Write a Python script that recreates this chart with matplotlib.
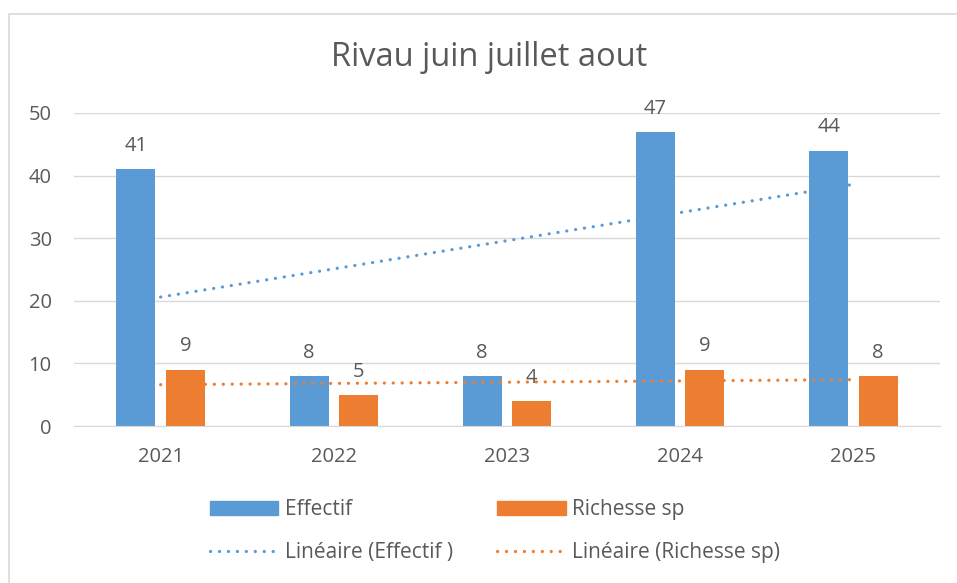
import matplotlib.pyplot as plt
from matplotlib.patches import Patch, Rectangle
from matplotlib.lines import Line2D
import numpy as np

years = ["2021", "2022", "2023", "2024", "2025"]
effectif = [41, 8, 8, 47, 44]
richesse = [9, 5, 4, 9, 8]

blue = "#5B9BD5"
orange = "#ED7D31"
txt = "#595959"
grid = "#D9D9D9"

plt.rcParams['font.family'] = ['Open Sans', 'DejaVu Sans']

fig = plt.figure(figsize=(9.57, 5.83), dpi=100)
ax = fig.add_axes([74 / 957, 1 - 426 / 583, (940 - 74) / 957, (426 - 113) / 583])

# chart frame
fig.patches.append(Rectangle((9 / 957, -0.05), 1.0, 1 - 14 / 583 + 0.05,
                             transform=fig.transFigure, fill=False,
                             edgecolor=grid, linewidth=1.2))

x = np.arange(len(years))
w = 0.225
off = 0.143
b1 = ax.bar(x - off, effectif, w, color=blue, zorder=2)
b2 = ax.bar(x + off, richesse, w, color=orange, zorder=2)

fs = 14.5
for bars, vals in ((b1, effectif), (b2, richesse)):
    for r, v in zip(bars, vals):
        ax.annotate(str(v), (r.get_x() + r.get_width() / 2, v), xytext=(0, 9.5),
                    textcoords="offset points", ha="center", va="bottom",
                    fontsize=fs, color=txt)

# linear trendlines
dots = dict(linestyle=(0, (0.05, 2.75)), dash_capstyle="round", linewidth=2.3, zorder=3)
for vals, c in ((effectif, blue), (richesse, orange)):
    k, b = np.polyfit(x, vals, 1)
    ax.plot(x, k * x + b, color=c, **dots)

ax.set_xlim(-0.5, 4.5)
ax.set_ylim(0, 50)
ax.set_yticks(range(0, 51, 10))
ax.set_xticks(x)
ax.set_xticklabels(years)
ax.yaxis.grid(True, color=grid, linewidth=1, zorder=0)
ax.set_axisbelow(True)
for s in ["top", "right", "left"]:
    ax.spines[s].set_visible(False)
ax.spines["bottom"].set_color(grid)
ax.tick_params(length=0, labelsize=fs, labelcolor=txt)
ax.tick_params(axis="y", pad=16)
ax.tick_params(axis="x", pad=15)

fig.text(489 / 957, 1 - 58 / 583, "Rivau juin juillet aout", ha="center",
         va="center", fontsize=23.5, color=txt)

handles = [Patch(color=blue), Line2D([], [], color=blue, **dots),
           Patch(color=orange), Line2D([], [], color=orange, **dots)]
labels = ["Effectif", "Linéaire (Effectif )", "Richesse sp", "Linéaire (Richesse sp)"]
fig.legend(handles, labels, ncol=2, loc="center", bbox_to_anchor=(495 / 957, 1 - 531 / 583),
           frameon=False, fontsize=15, labelcolor=txt, handlelength=3.27,
           handletextpad=0.3, columnspacing=2.15, labelspacing=1.04)

fig.savefig("out.png", dpi=100)
